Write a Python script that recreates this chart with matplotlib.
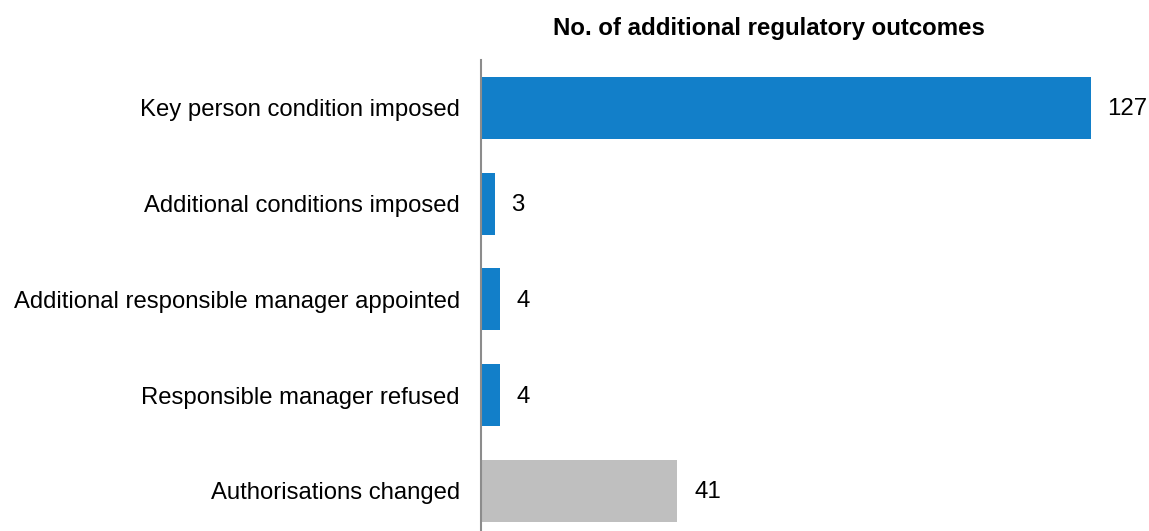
import matplotlib.pyplot as plt

plt.rcParams['font.family'] = ['Liberation Sans', 'DejaVu Sans']

# data
categories = ['Key person condition imposed', 'Additional conditions imposed',
              'Additional responsible manager appointed', 'Responsible manager refused',
              'Authorisations changed']
values = [127, 3, 4, 4, 41]
colors = ['#127fc9', '#127fc9', '#127fc9', '#127fc9', '#bfbfbf']

fig = plt.figure(figsize=(11.49, 5.31), dpi=100)
ax = fig.add_axes([480.5 / 1149, 0, (1129 - 480.5) / 1149, 471 / 531])

pos = list(range(len(categories)))
bars = ax.barh(pos, values, height=0.65, color=colors)
for b, v in zip(bars, values):
    ax.annotate(str(v), (b.get_width(), b.get_y() + b.get_height() / 2),
                xytext=(12, -1), textcoords='offset points',
                va='center', ha='left', fontsize=17.3)

ax.set_xlim(0, 135)
ax.set_ylim(4.419, -0.5)
ax.set_yticks(pos)
ax.set_yticklabels(categories, fontsize=17.2)
ax.tick_params(axis='y', length=0, pad=15)
ax.set_xticks([])
for s in ['top', 'right', 'bottom']:
    ax.spines[s].set_visible(False)
ax.spines['left'].set_color('#8c8c8c')
ax.spines['left'].set_linewidth(1.5)

fig.text(769 / 1149, 1 - 28 / 531, 'No. of additional regulatory outcomes',
         ha='center', va='center', fontsize=17.3, fontweight='bold')

fig.savefig('out.png', dpi=100)
